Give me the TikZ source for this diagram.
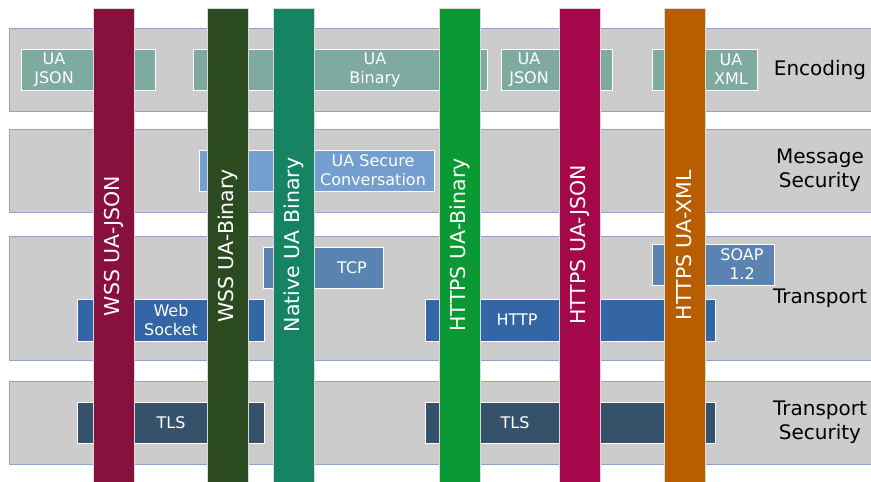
\documentclass[tikz,border=0pt]{standalone}
\usepackage{fontspec}
\setmainfont{DejaVu Sans}
\begin{document}
\begin{tikzpicture}[x=1pt,y=-1pt,
  band/.style={draw=bandline,fill=bandfill,line width=0.8pt,anchor=north west,inner sep=0pt,minimum width=880pt},
  layerbox/.style={draw=white,line width=1.4pt,anchor=north west,inner sep=0pt},
  boxtext/.style={text=white,font=\fontsize{16}{19}\selectfont,align=center,inner sep=0pt},
  bar/.style={draw=white!85!black,line width=0.5pt,anchor=north,inner sep=0pt,minimum width=41pt,minimum height=480pt},
  bartext/.style={text=white,font=\fontsize{20.5}{24}\selectfont,rotate=90,inner sep=0pt},
  layerlabel/.style={text=black,font=\fontsize{20}{24}\selectfont,align=center,inner sep=0pt}
]
\definecolor{bandfill}{HTML}{CCCCCC}
\definecolor{bandline}{HTML}{8EA3C9}
\definecolor{enccol}{HTML}{7EAAA0}
\definecolor{msgcol}{HTML}{729FCF}
\definecolor{tcpcol}{HTML}{5A83B2}
\definecolor{wscol}{HTML}{3465A4}
\definecolor{tlscol}{HTML}{35526A}
\definecolor{wssjson}{HTML}{87103F}
\definecolor{wssbin}{HTML}{2B4A1F}
\definecolor{nativebin}{HTML}{168463}
\definecolor{httpsbin}{HTML}{0B9933}
\definecolor{httpsjson}{HTML}{A5074B}
\definecolor{httpsxml}{HTML}{B85E00}

\useasboundingbox[fill=white] (0,0) rectangle (871,482);
\clip (0,0) rectangle (871,482);

% layer bands
\node[band,minimum height=83pt] (encband) at (9,28) {};
\node[band,minimum height=83pt] (msgband) at (9,129) {};
\node[band,minimum height=124pt] (trband) at (9,236) {};
\node[band,minimum height=83pt] (tsband) at (9,381) {};

% encoding boxes
\node[layerbox,fill=enccol,minimum width=134pt,minimum height=41pt] (encjsonA) at (21,49) {};
\node[layerbox,fill=enccol,minimum width=294pt,minimum height=41pt] (encbin) at (193,49) {};
\node[layerbox,fill=enccol,minimum width=111pt,minimum height=41pt] (encjsonB) at (501,49) {};
\node[layerbox,fill=enccol,minimum width=105pt,minimum height=41pt] (encxml) at (652,49) {};
\node[boxtext] (tjsonA) at (54,69.5) {UA\\JSON};
\node[boxtext] (tbin) at (375,69.5) {UA\\Binary};
\node[boxtext] (tjsonB) at (529,69.5) {UA\\JSON};
\node[boxtext] (txml) at (731,69.5) {UA\\XML};

% message security
\node[layerbox,fill=msgcol,minimum width=235pt,minimum height=41pt] (secconv) at (199,150) {};
\node[boxtext] (tsecconv) at (373,170.5) {UA Secure\\Conversation};

% transport
\node[layerbox,fill=tcpcol,minimum width=120pt,minimum height=41pt] (tcp) at (263,247) {};
\node[layerbox,fill=tcpcol,minimum width=122pt,minimum height=41pt] (soap) at (652,244) {};
\node[layerbox,fill=wscol,minimum width=187pt,minimum height=42pt] (websock) at (77,299) {};
\node[layerbox,fill=wscol,minimum width=290pt,minimum height=42pt] (http) at (425,299) {};
\node[boxtext] (ttcp) at (352,267.5) {TCP};
\node[boxtext] (tsoap) at (742,264.5) {SOAP\\1.2};
\node[boxtext] (twebsock) at (171,320) {Web\\Socket};
\node[boxtext] (thttp) at (517,320) {HTTP};

% transport security
\node[layerbox,fill=tlscol,minimum width=187pt,minimum height=41pt] (tlsA) at (77,402) {};
\node[layerbox,fill=tlscol,minimum width=290pt,minimum height=41pt] (tlsB) at (425,402) {};
\node[boxtext] (ttlsA) at (171,422.5) {TLS};
\node[boxtext] (ttlsB) at (515,422.5) {TLS};

% protocol mappings
\node[bar,fill=wssjson] (b1) at (113.5,8) {};
\node[bar,fill=wssbin] (b2) at (228,8) {};
\node[bar,fill=nativebin] (b3) at (293.5,8) {};
\node[bar,fill=httpsbin] (b4) at (459.5,8) {};
\node[bar,fill=httpsjson] (b5) at (579.5,8) {};
\node[bar,fill=httpsxml] (b6) at (684.5,8) {};
\node[bartext] (l1) at (113.5,246) {WSS UA-JSON};
\node[bartext] (l2) at (228,246) {WSS UA-Binary};
\node[bartext] (l3) at (293.5,245) {Native UA Binary};
\node[bartext] (l4) at (459.5,245) {HTTPS UA-Binary};
\node[bartext] (l5) at (579.5,245) {HTTPS UA-JSON};
\node[bartext] (l6) at (684.5,245) {HTTPS UA-XML};

% layer names
\node[layerlabel] (nenc) at (820,70) {Encoding};
\node[layerlabel] (nmsg) at (820,170.5) {Message\\Security};
\node[layerlabel] (ntr) at (820,298) {Transport};
\node[layerlabel] (nts) at (820,422.5) {Transport\\Security};
\end{tikzpicture}
\end{document}
